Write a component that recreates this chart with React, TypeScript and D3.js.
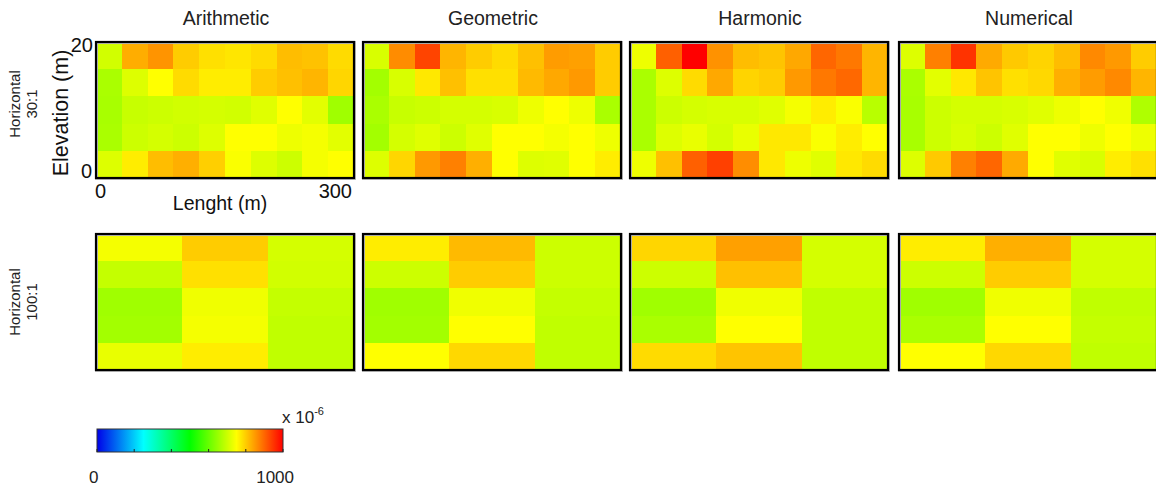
import React from 'react';
import * as d3 from 'd3';

// column headers and row labels
const methods = ['Arithmetic', 'Geometric', 'Harmonic', 'Numerical'];
const rowLabels = [['Horizontal', '30:1'], ['Horizontal', '100:1']];

// conductivity (x 10^-6), rows listed top (20 m) to bottom (0 m)
const fine30Arithmetic = [
  [705, 830, 855, 800, 780, 775, 785, 815, 810, 785],
  [667, 717, 750, 785, 768, 768, 800, 812, 823, 790],
  [665, 695, 700, 705, 708, 705, 720, 750, 723, 657],
  [667, 700, 708, 700, 717, 750, 750, 733, 740, 723],
  [717, 768, 815, 828, 797, 745, 717, 700, 740, 750],
];
const fine30Geometric = [
  [712, 863, 933, 823, 800, 785, 812, 847, 843, 800],
  [660, 712, 773, 812, 780, 780, 818, 835, 850, 800],
  [667, 695, 700, 708, 708, 712, 733, 750, 733, 667],
  [660, 708, 720, 700, 720, 750, 750, 740, 750, 733],
  [717, 790, 850, 875, 828, 750, 717, 720, 750, 768],
];
const fine30Harmonic = [
  [733, 906, 1000, 857, 815, 808, 835, 900, 882, 823],
  [667, 717, 785, 835, 792, 800, 850, 882, 898, 823],
  [667, 700, 708, 712, 712, 720, 740, 768, 745, 680],
  [667, 717, 728, 708, 728, 773, 773, 745, 768, 750],
  [733, 812, 906, 937, 862, 773, 733, 720, 773, 785],
];
const fine30Numerical = [
  [717, 875, 950, 833, 803, 792, 815, 866, 850, 800],
  [667, 723, 773, 808, 780, 788, 828, 847, 866, 823],
  [665, 700, 708, 708, 712, 720, 733, 750, 735, 672],
  [665, 700, 712, 700, 720, 750, 750, 733, 750, 733],
  [717, 803, 875, 900, 833, 750, 720, 712, 768, 780],
];

const coarse100Arithmetic = [
  [740, 800, 708],
  [692, 780, 705],
  [657, 735, 692],
  [660, 740, 688],
  [728, 768, 688],
];
const coarse100Geometric = [
  [768, 818, 700],
  [700, 800, 700],
  [657, 735, 692],
  [660, 750, 688],
  [750, 788, 688],
];
const coarse100Harmonic = [
  [790, 843, 708],
  [700, 812, 708],
  [657, 735, 688],
  [667, 750, 688],
  [785, 808, 688],
];
const coarse100Numerical = [
  [768, 828, 708],
  [700, 800, 708],
  [657, 735, 688],
  [667, 750, 692],
  [750, 788, 688],
];

const grids = [
  [fine30Arithmetic, fine30Geometric, fine30Harmonic, fine30Numerical],
  [coarse100Arithmetic, coarse100Geometric, coarse100Harmonic, coarse100Numerical],
];

const colorTicks = [0, 200, 400, 600, 800, 1000];

const jet = d3
  .scaleLinear<string>()
  .domain([0, 250, 500, 750, 1000])
  .range(['#0000e8', '#00ffff', '#00ff00', '#ffff00', '#ff0000'])
  .clamp(true);

const W = 1156;
const H = 488;
const panelX = [96, 363, 630, 899];
const panelW = 258;
const rowY = [42, 234];
const labelY = [104, 302];
const panelH = 136;
const sans = 'Liberation Sans, Arial, Helvetica, sans-serif';

const Heatmap = ({ grid, x, y }: { grid: number[][]; x: number; y: number }) => {
  const cols = d3.range(grid[0].length);
  const rows = d3.range(grid.length);
  const xs = d3.scaleBand<number>().domain(cols).range([0, panelW]);
  const ys = d3.scaleBand<number>().domain(rows).range([0, panelH]);
  return (
    <g transform={`translate(${x},${y})`}>
      {grid.map((row, r) =>
        row.map((v, c) => (
          <rect
            key={`${r}-${c}`}
            x={xs(c)}
            y={ys(r)}
            width={xs.bandwidth() + 0.5}
            height={ys.bandwidth() + 0.5}
            fill={jet(v)}
            shapeRendering="crispEdges"
          />
        ))
      )}
      <rect x={0.5} y={0.5} width={panelW} height={panelH} fill="none" stroke="#bbb" strokeWidth={3} />
      <rect x={0} y={0} width={panelW} height={panelH} fill="none" stroke="#000" strokeWidth={2.2} />
    </g>
  );
};

export default function App() {
  const cbX = d3.scaleLinear().domain([0, 1000]).range([97, 283]);
  const cbY = 429;
  const cbH = 23;
  const stops = d3.range(0, 1001, 50);

  return (
    <svg width={W} height={H} style={{ position: 'absolute', left: 0, top: 0 }}>
      <defs>
        <linearGradient id="jetbar" x1="0" x2="1" y1="0" y2="0">
          {stops.map((s) => (
            <stop key={s} offset={`${s / 10}%`} stopColor={jet(s)} />
          ))}
        </linearGradient>
      </defs>
      <rect width={W} height={H} fill="#fff" />

      {methods.map((m, i) => (
        <text key={m} x={panelX[i] + panelW / 2 + 1} y={25} textAnchor="middle" fontFamily={sans} fontSize={19.5} fill="#222">
          {m}
        </text>
      ))}

      {grids.map((row, ri) =>
        row.map((g, ci) => <Heatmap key={`${ri}-${ci}`} grid={g} x={panelX[ci]} y={rowY[ri]} />)
      )}

      {rowLabels.map((lbl, ri) => (
        <g key={ri} transform={`translate(20,${labelY[ri]}) rotate(-90)`}>
          <text x={0} y={0} textAnchor="middle" fontFamily={sans} fontSize={15} fill="#222">
            {lbl[0]}
          </text>
          <text x={0} y={17} textAnchor="middle" fontFamily={sans} fontSize={15} fill="#222">
            {lbl[1]}
          </text>
        </g>
      ))}

      {/* axis annotations of the first panel */}
      <text x={93} y={52} textAnchor="end" fontFamily={sans} fontSize={20} fill="#111">20</text>
      <text x={92} y={178} textAnchor="end" fontFamily={sans} fontSize={20} fill="#111">0</text>
      <text
        transform={`translate(68,113) rotate(-90)`}
        textAnchor="middle"
        fontFamily={sans}
        fontSize={21.5}
        fill="#111"
      >
        Elevation (m)
      </text>
      <text x={95} y={198} fontFamily={sans} fontSize={20} fill="#111">0</text>
      <text x={352} y={198} textAnchor="end" fontFamily={sans} fontSize={20} fill="#111">300</text>
      <text x={220} y={210} textAnchor="middle" fontFamily={sans} fontSize={19.5} fill="#111">Lenght (m)</text>

      {/* colour bar */}
      <rect x={cbX(0)} y={cbY} width={cbX(1000) - cbX(0)} height={cbH} fill="url(#jetbar)" stroke="#333" strokeWidth={1} />
      {colorTicks.map((t) => (
        <line key={t} x1={cbX(t)} x2={cbX(t)} y1={cbY + cbH} y2={cbY + cbH - 3} stroke="#222" strokeWidth={1} />
      ))}
      <text x={89} y={483} textAnchor="start" fontFamily={sans} fontSize={17} fill="#222">0</text>
      <text x={294} y={483} textAnchor="end" fontFamily={sans} fontSize={17} fill="#222">1000</text>
      <text x={282} y={423} fontFamily={sans} fontSize={17} fill="#222">
        x 10<tspan dy={-8} fontSize={11}>-6</tspan>
      </text>
    </svg>
  );
}
